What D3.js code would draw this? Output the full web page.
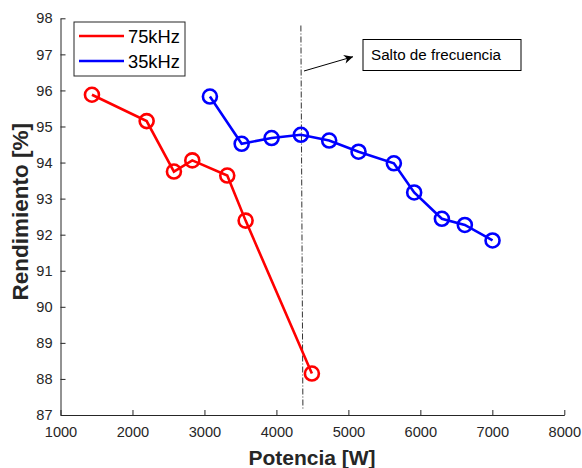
<!DOCTYPE html>
<html><head><meta charset="utf-8">
<script src="https://cdn.jsdelivr.net/npm/d3@7"></script>
<style>body{margin:0;background:#fff}svg text{font-family:"Liberation Sans",Arial,sans-serif}</style>
</head><body>
<svg id="c" width="582" height="468"></svg>
<script>
const xTicks = [1000,2000,3000,4000,5000,6000,7000,8000];
const yTicks = [87,88,89,90,91,92,93,94,95,96,97,98];
const series75Label = "75kHz";
const series75X = [1437,2197,2576,2831,3317,3572,4493];
const series75Y = [95.88,95.15,93.75,94.06,93.64,92.39,88.15];
const series35Label = "35kHz";
const series35X = [3076,3517,3933,4340,4733,5141,5632,5914,6299,6618,7003];
const series35Y = [95.83,94.52,94.68,94.77,94.61,94.30,93.98,93.17,92.44,92.27,91.84];
const jumpLineX = [4340,4368];
const jumpLineY = [97.8,87.15];
const annotationText = "Salto de frecuencia";
const xLabel = "Potencia [W]";
const yLabel = "Rendimiento [%]";

const svg = d3.select("#c");
const L=60.5, R=564.3, T=18.3, B=415;
const x = d3.scaleLinear().domain([1000,8000]).range([L,R]);
const y = d3.scaleLinear().domain([87,98]).range([B,T]);
const axCol="#262626";

const gx = svg.append("g").attr("transform",`translate(0,${B})`)
  .call(d3.axisBottom(x).tickValues(xTicks).tickSizeInner(-5).tickSizeOuter(0).tickPadding(12).tickFormat(d3.format("d")));
const gy = svg.append("g").attr("transform",`translate(${L},0)`)
  .call(d3.axisLeft(y).tickValues(yTicks).tickSizeInner(-5).tickSizeOuter(0).tickPadding(8).tickFormat(d3.format("d")));
[gx,gy].forEach(g=>{
  g.selectAll("path").attr("stroke",axCol).attr("stroke-width",1);
  g.selectAll("line").attr("stroke",axCol);
  g.selectAll("text").attr("fill",axCol).attr("font-size",14.6).attr("font-family","Liberation Sans, Arial, sans-serif");
});

// dash-dot line
svg.append("line").attr("x1",x(jumpLineX[0])).attr("y1",y(jumpLineY[0]))
  .attr("x2",x(jumpLineX[1])).attr("y2",y(jumpLineY[1]))
  .attr("stroke","#333").attr("stroke-width",1).attr("stroke-dasharray","6,2,1,2");

function drawSeries(xs,ys,col){
  const pts = xs.map((v,i)=>[v,ys[i]]);
  svg.append("path").datum(pts).attr("fill","none").attr("stroke",col).attr("stroke-width",2.6)
    .attr("d",d3.line().x(d=>x(d[0])).y(d=>y(d[1])));
  svg.append("g").selectAll("circle").data(pts).join("circle")
    .attr("cx",d=>x(d[0])).attr("cy",d=>y(d[1])).attr("r",7)
    .attr("fill","none").attr("stroke",col).attr("stroke-width",2.6);
}
drawSeries(series75X,series75Y,"#ff0000");
drawSeries(series35X,series35Y,"#0000ff");

// arrow annotation
const defs = svg.append("defs");
defs.append("marker").attr("id","ah").attr("viewBox","0 0 10 10").attr("refX",10).attr("refY",5)
  .attr("markerWidth",12).attr("markerHeight",9).attr("markerUnits","userSpaceOnUse").attr("orient","auto")
  .append("path").attr("d","M0,0 L10,5 L0,10 L3,5 Z").attr("fill","#000");
svg.append("line").attr("x1",304).attr("y1",71).attr("x2",353).attr("y2",56.7)
  .attr("stroke","#000").attr("stroke-width",1).attr("marker-end","url(#ah)");
svg.append("rect").attr("x",363).attr("y",39.5).attr("width",158).attr("height",31)
  .attr("fill","#fff").attr("stroke","#000").attr("stroke-width",1);
svg.append("text").attr("x",371).attr("y",60).attr("font-size",15.2).attr("fill","#000").text(annotationText);

// legend
svg.append("rect").attr("x",74).attr("y",22).attr("width",111).attr("height",54)
  .attr("fill","#fff").attr("stroke","#262626").attr("stroke-width",1);
[[series75Label,"#ff0000",36],[series35Label,"#0000ff",61]].forEach(([t,c,yy])=>{
  svg.append("line").attr("x1",79).attr("x2",124).attr("y1",yy).attr("y2",yy).attr("stroke",c).attr("stroke-width",2.6);
  svg.append("text").attr("x",128).attr("y",yy+7.3).attr("font-size",18.3).attr("fill","#000").text(t);
});

// axis labels
svg.append("text").attr("x",312).attr("y",465).attr("text-anchor","middle")
  .attr("font-size",21).attr("font-weight","bold").attr("fill",axCol).text(xLabel);
svg.append("text").attr("transform",`translate(28.3,211.7) rotate(-90)`).attr("text-anchor","middle")
  .attr("font-size",22.5).attr("font-weight","bold").attr("fill",axCol).text(yLabel);
</script>
</body></html>
